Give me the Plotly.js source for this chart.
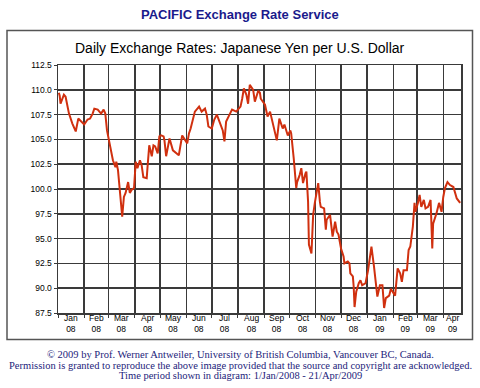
<!DOCTYPE html>
<html>
<head>
<meta charset="utf-8">
<script src="https://cdn.plot.ly/plotly-3.0.1.min.js"></script>
<style>
  html, body { margin: 0; padding: 0; background: #ffffff; }
  #chart { width: 480px; height: 388px; }
</style>
</head>
<body>
<div id="chart"></div>
<script>
// ---- data ----
const dates = [
  '2008-01-02','2008-01-03','2008-01-04','2008-01-08','2008-01-10','2008-01-14','2008-01-18','2008-01-22','2008-01-25','2008-01-28',
  '2008-02-01','2008-02-05','2008-02-08','2008-02-11','2008-02-13','2008-02-17','2008-02-21','2008-02-24','2008-02-26','2008-02-28',
  '2008-03-03','2008-03-04','2008-03-06','2008-03-09','2008-03-10','2008-03-12','2008-03-14','2008-03-17','2008-03-19','2008-03-21',
  '2008-03-24','2008-03-26','2008-03-28','2008-03-31',
  '2008-04-02','2008-04-04','2008-04-07','2008-04-09','2008-04-11','2008-04-15','2008-04-16','2008-04-18','2008-04-21','2008-04-23',
  '2008-04-25','2008-04-28','2008-04-30',
  '2008-05-02','2008-05-05','2008-05-06','2008-05-08','2008-05-12','2008-05-16','2008-05-20','2008-05-23','2008-05-27',
  '2008-06-02','2008-06-04','2008-06-06','2008-06-11','2008-06-16','2008-06-19','2008-06-23','2008-06-25','2008-06-27',
  '2008-07-01','2008-07-04','2008-07-07','2008-07-10','2008-07-14','2008-07-16','2008-07-18','2008-07-22','2008-07-25','2008-07-30',
  '2008-08-04','2008-08-06','2008-08-08','2008-08-11','2008-08-13','2008-08-15','2008-08-19','2008-08-21','2008-08-25','2008-08-27','2008-08-28',
  '2008-09-02','2008-09-05','2008-09-08','2008-09-10','2008-09-12','2008-09-16','2008-09-19','2008-09-23','2008-09-25','2008-09-29',
  '2008-10-02','2008-10-03','2008-10-06','2008-10-07','2008-10-09','2008-10-10','2008-10-13','2008-10-15','2008-10-17','2008-10-20',
  '2008-10-21','2008-10-23','2008-10-24','2008-10-27','2008-10-29','2008-10-31',
  '2008-11-04','2008-11-06','2008-11-07','2008-11-11','2008-11-13','2008-11-14','2008-11-18','2008-11-21','2008-11-24','2008-11-26','2008-11-28',
  '2008-12-01','2008-12-04','2008-12-05','2008-12-09','2008-12-11','2008-12-12','2008-12-15','2008-12-16','2008-12-17','2008-12-19',
  '2008-12-22','2008-12-24','2008-12-26','2008-12-30',
  '2009-01-02','2009-01-06','2009-01-09','2009-01-12','2009-01-13','2009-01-16','2009-01-19','2009-01-21','2009-01-23','2009-01-27','2009-01-29','2009-01-30',
  '2009-02-03','2009-02-06','2009-02-09','2009-02-11','2009-02-13','2009-02-17','2009-02-19','2009-02-21','2009-02-24','2009-02-26','2009-02-27',
  '2009-03-02','2009-03-04','2009-03-06','2009-03-09','2009-03-11','2009-03-14','2009-03-17','2009-03-19','2009-03-20','2009-03-24','2009-03-27','2009-03-30',
  '2009-04-01','2009-04-03','2009-04-06','2009-04-09','2009-04-13','2009-04-15','2009-04-17','2009-04-21'
];
const yenPerUSD = [
  109.7,109.4,108.6,109.5,109.3,107.6,106.6,105.8,107.1,106.8,
  106.5,107.0,107.1,107.6,108.1,108.0,107.6,108.0,107.6,105.9,
  104.1,103.9,102.9,102.2,102.75,101.9,100.2,97.2,99.2,99.6,
  100.7,99.6,99.9,100.1,
  102.75,102.1,102.9,102.4,101.2,101.1,102.25,104.4,103.3,104.4,
  104.3,103.6,105.3,
  105.4,105.3,104.9,103.3,105.1,103.9,103.6,103.4,105.4,
  104.6,105.6,106.1,107.8,108.3,107.8,108.1,107.5,106.3,
  106.1,107.0,107.5,106.8,105.9,104.8,106.8,107.5,108.0,107.8,
  108.3,109.1,110.15,109.5,108.6,110.5,110.0,108.8,109.9,109.7,109.1,
  108.5,107.3,107.8,107.1,106.3,104.9,107.1,106.1,106.5,105.4,
  105.9,105.6,103.1,102.25,100.1,100.7,101.4,102.1,100.6,101.6,
  101.75,98.7,94.4,93.5,97.4,98.6,
  100.6,98.7,98.2,98.05,95.9,96.9,97.4,95.2,96.7,95.7,95.4,
  94.0,93.2,92.5,92.7,92.5,91.5,91.2,90.15,88.1,89.65,
  90.5,90.8,90.3,90.5,
  91.8,94.2,92.2,90.15,89.15,90.3,90.3,88.0,89.0,89.25,89.95,89.8,
  89.25,92.0,91.5,90.65,91.8,91.8,93.85,94.2,96.2,98.6,97.7,
  98.6,99.4,98.2,98.9,98.05,98.2,98.9,94.0,96.5,97.55,98.6,97.7,
  99.2,100.1,100.7,100.4,100.2,99.6,99.05,98.6
];
const monthStarts = ['2008-01-01','2008-02-01','2008-03-01','2008-04-01','2008-05-01','2008-06-01','2008-07-01','2008-08-01',
  '2008-09-01','2008-10-01','2008-11-01','2008-12-01','2009-01-01','2009-02-01','2009-03-01','2009-04-01'];
const monthMids = ['2008-01-16 12:00','2008-02-15 12:00','2008-03-16 12:00','2008-04-16','2008-05-16 12:00','2008-06-16',
  '2008-07-16 12:00','2008-08-16 12:00','2008-09-16','2008-10-16 12:00','2008-11-16','2008-12-16 12:00',
  '2009-01-16 12:00','2009-02-15','2009-03-16 12:00','2009-04-11 12:00'];
const monthNames = ['Jan','Feb','Mar','Apr','May','Jun','Jul','Aug','Sep','Oct','Nov','Dec','Jan','Feb','Mar','Apr'];
const yearLabels = ['08','08','08','08','08','08','08','08','08','08','08','08','09','09','09','09'];
const yTicks = [87.5,90.0,92.5,95.0,97.5,100.0,102.5,105.0,107.5,110.0,112.5];

const pageTitle = 'PACIFIC Exchange Rate Service';
const chartTitle = 'Daily Exchange Rates: Japanese Yen per U.S. Dollar';
const footerLines = [
  '\u00a9 2009 by Prof. Werner Antweiler, University of British Columbia, Vancouver BC, Canada.',
  'Permission is granted to reproduce the above image provided that the source and copyright are acknowledged.',
  'Time period shown in diagram: 1/Jan/2008 - 21/Apr/2009'
];

// ---- layout helpers ----
const plotTop = 65, plotBottom = 313, plotH = plotBottom - plotTop;
const plotLeft = 58, plotRight = 461, plotW = plotRight - plotLeft;
const py = px => (plotBottom - px) / plotH;   // pixel y -> paper y
const pxx = px => (px - plotLeft) / plotW;     // pixel x -> paper x

const gridCol = '#3a3a3a';
const sans = 'Liberation Sans, Arial, Helvetica, sans-serif';
const serif = 'Liberation Serif, Times New Roman, serif';
const footCol = '#23237a';

const annotations = [
  { text: '<b>' + pageTitle + '</b>', xref: 'paper', yref: 'paper', x: pxx(240), y: py(14),
    xanchor: 'center', yanchor: 'middle', showarrow: false, font: { family: sans, size: 13, color: '#1a1a8c' } },
  { text: chartTitle, xref: 'paper', yref: 'paper', x: pxx(240), y: py(48),
    xanchor: 'center', yanchor: 'middle', showarrow: false, font: { family: sans, size: 14, color: '#000000' } }
];
const footY = [354, 365, 375];
footerLines.forEach((t, i) => annotations.push({
  text: t, xref: 'paper', yref: 'paper', x: pxx(240), y: py(footY[i]),
  xanchor: 'center', yanchor: 'middle', showarrow: false, font: { family: serif, size: 10.5, color: footCol }
}));
monthMids.forEach((m, i) => annotations.push({
  text: monthNames[i] + '<br>' + yearLabels[i], xref: 'x', yref: 'paper', x: m, y: py(312),
  xanchor: 'center', yanchor: 'top', align: 'center', showarrow: false, borderpad: 0,
  font: { family: sans, size: 8.5, color: '#000000' }
}));

const trace = {
  type: 'scatter', mode: 'lines', x: dates, y: yenPerUSD,
  line: { color: '#d0300f', width: 2 }, hoverinfo: 'skip'
};

const layout = {
  width: 480, height: 388,
  margin: { l: plotLeft, r: 480 - plotRight, t: plotTop, b: 388 - plotBottom, pad: 0 },
  paper_bgcolor: '#ffffff', plot_bgcolor: '#ffffff',
  showlegend: false,
  xaxis: {
    type: 'date', range: ['2008-01-01', '2009-04-22'],
    tickmode: 'array', tickvals: monthStarts, showticklabels: false,
    ticks: 'outside', ticklen: 3, tickcolor: gridCol, tickwidth: 1,
    showgrid: true, gridcolor: gridCol, gridwidth: 1.5, zeroline: false,
    showline: true, mirror: true, linecolor: gridCol, linewidth: 1.5
  },
  yaxis: {
    range: [87.5, 112.5], tickmode: 'array', tickvals: yTicks, ticktext: yTicks.map(v => v.toFixed(1)),
    ticks: 'outside', ticklen: 3, tickcolor: gridCol, tickwidth: 1,
    showgrid: true, gridcolor: gridCol, gridwidth: 1.5, zeroline: false,
    showline: true, mirror: true, linecolor: gridCol, linewidth: 1.5,
    tickfont: { family: sans, size: 8.5, color: '#000000' }
  },
  shapes: [
    { type: 'rect', xref: 'paper', yref: 'paper', x0: pxx(7), x1: pxx(472.5), y0: py(339.5), y1: py(30.5),
      line: { color: '#555555', width: 1.5 }, fillcolor: 'rgba(0,0,0,0)', layer: 'below' }
  ],
  annotations: annotations
};

Plotly.newPlot('chart', [trace], layout, { displayModeBar: false, staticPlot: true });
</script>
</body>
</html>
